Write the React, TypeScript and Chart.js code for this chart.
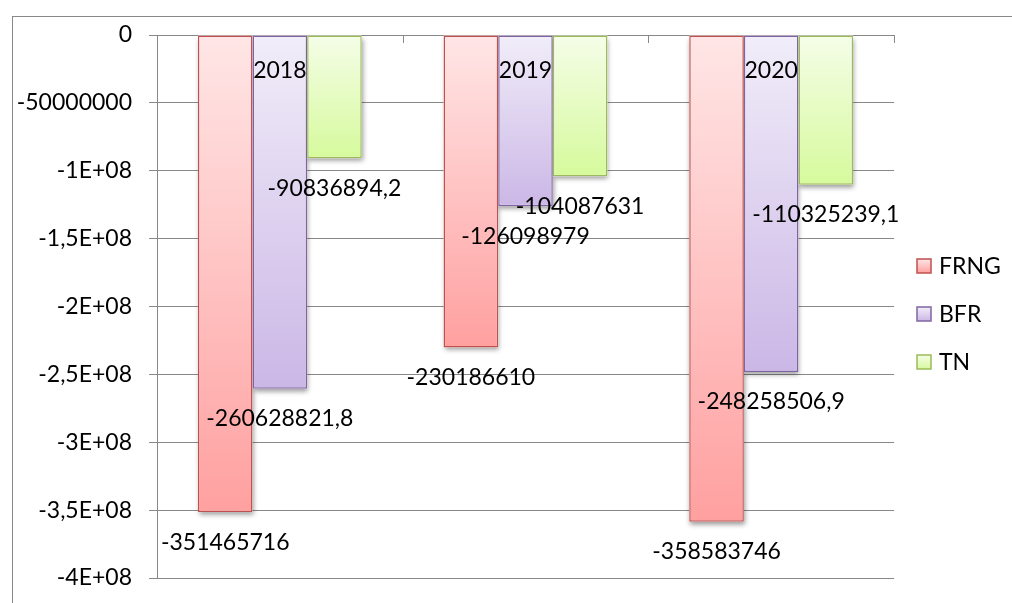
import React, { useEffect, useRef } from "react";
import { Chart, registerables } from "chart.js";

Chart.register(...registerables);

const categories = ["2018", "2019", "2020"];
const seriesNames = ["FRNG", "BFR", "TN"];
const frngValues = [-351465716, -230186610, -358583746];
const bfrValues = [-260628821.8, -126098979, -248258506.9];
const tnValues = [-90836894.2, -104087631, -110325239.1];
const yTickLabels = ["0", "-50000000", "-1E+08", "-1,5E+08", "-2E+08", "-2,5E+08", "-3E+08", "-3,5E+08", "-4E+08"];

const FONT = "Lato";
const FS = 23;
const GRID = "#888888";

const palette = [
  { top: "#FFE6E6", bottom: "#FFA0A0", border: "#C0504D" },
  { top: "#F1EDF9", bottom: "#CBB7E6", border: "#8064A2" },
  { top: "#F5FDE8", bottom: "#D6FA9C", border: "#9BBB59" },
];

function gradientFor(i: number) {
  return (ctx: any) => {
    const chart = ctx.chart;
    const p = palette[i];
    if (!chart.chartArea || ctx.type !== "data" || !chart.scales.y) return p.bottom;
    const y = chart.scales.y;
    const y0 = y.getPixelForValue(0);
    const y1 = y.getPixelForValue(ctx.raw);
    if (!isFinite(y0) || !isFinite(y1) || y0 === y1) return p.bottom;
    const g = chart.ctx.createLinearGradient(0, y0, 0, y1);
    g.addColorStop(0, p.top);
    g.addColorStop(1, p.bottom);
    return g;
  };
}

const fmt = (v: number) => String(v).replace(".", ",");

const decorPlugin = {
  id: "decor",
  beforeDraw(chart: any) {
    const c = chart.ctx;
    c.save();
    c.strokeStyle = GRID;
    c.lineWidth = 1;
    c.strokeRect(12.5, 16.5, chart.width + 20, chart.height + 20);
    c.restore();
  },
  beforeDatasetsDraw(chart: any) {
    const c = chart.ctx;
    const { chartArea } = chart;
    const n = categories.length;
    const w = (chartArea.right - chartArea.left) / n;
    c.save();
    c.strokeStyle = GRID;
    c.lineWidth = 1;
    for (let i = 1; i <= n; i++) {
      const px = Math.round(chartArea.left + i * w) + 0.5;
      c.beginPath();
      c.moveTo(px, chartArea.top);
      c.lineTo(px, chartArea.top + 8);
      c.stroke();
    }
    c.restore();
    // shadows
    c.save();
    c.shadowColor = "rgba(0,0,0,0.4)";
    c.shadowBlur = 5;
    c.shadowOffsetX = 1;
    c.shadowOffsetY = 3;
    c.fillStyle = "#ffffff";
    chart.data.datasets.forEach((_: any, di: number) => {
      const meta = chart.getDatasetMeta(di);
      meta.data.forEach((el: any) => {
        const left = el.x - el.width / 2;
        const top = Math.min(el.y, el.base);
        const h = Math.abs(el.base - el.y);
        c.fillRect(left, top, el.width, h);
      });
    });
    c.restore();
  },
  afterDatasetsDraw(chart: any) {
    const c = chart.ctx;
    const { chartArea } = chart;
    c.save();
    c.fillStyle = "#000000";
    c.font = `${FS}px ${FONT}`;
    c.textAlign = "center";
    c.textBaseline = "middle";
    chart.data.datasets.forEach((ds: any, di: number) => {
      const meta = chart.getDatasetMeta(di);
      meta.data.forEach((el: any, i: number) => {
        c.fillText(fmt(ds.data[i]), el.x, el.y + 30);
      });
    });
    const xs = chart.scales.x;
    categories.forEach((cat, i) => {
      c.fillText(cat, xs.getPixelForValue(i), chartArea.top + 36);
    });
    c.textAlign = "left";
    chart.data.datasets.forEach((ds: any, di: number) => {
      const p = palette[di];
      const cy = 266 + di * 48;
      const g = c.createLinearGradient(0, cy - 7, 0, cy + 7);
      g.addColorStop(0, p.top);
      g.addColorStop(1, p.bottom);
      c.fillStyle = g;
      c.fillRect(917, cy - 7, 14, 14);
      c.strokeStyle = p.border;
      c.lineWidth = 1.5;
      c.strokeRect(917, cy - 7, 14, 14);
      c.fillStyle = "#000000";
      c.fillText(ds.label, 939, cy + 1);
    });
    c.restore();
  },
};

export default function App() {
  const ref = useRef<HTMLCanvasElement | null>(null);
  useEffect(() => {
    if (!ref.current) return;
    const values = [frngValues, bfrValues, tnValues];
    const chart = new Chart(ref.current, {
      type: "bar",
      data: {
        labels: categories,
        datasets: seriesNames.map((name, i) => ({
          label: name,
          data: values[i],
          backgroundColor: gradientFor(i),
          borderColor: palette[i].border,
          borderWidth: 1.5,
          borderSkipped: false,
          categoryPercentage: 0.667,
          barPercentage: 1,
        })),
      },
      options: {
        responsive: false,
        animation: false,
        maintainAspectRatio: false,
        layout: { padding: { left: 0, top: 35, right: 118, bottom: 25 } },
        plugins: { legend: { display: false }, tooltip: { enabled: false }, title: { display: false } },
        scales: {
          x: { display: false },
          y: {
            min: -400000000,
            max: 0,
            afterFit: (s: any) => {
              s.width = 157;
              s.paddingTop = 0;
              s.paddingBottom = 0;
            },
            ticks: {
              stepSize: 50000000,
              color: "#000000",
              padding: 17,
              font: { family: FONT, size: FS },
              callback: (v: any) => yTickLabels[Math.round(-Number(v) / 50000000)] ?? "",
            },
            grid: { color: GRID, lineWidth: 1, tickLength: 8, drawTicks: true },
            border: { display: true, color: GRID, width: 1 },
          },
        },
      },
      plugins: [decorPlugin],
    });
    return () => chart.destroy();
  }, []);
  return (
    <div style={{ position: "absolute", left: 0, top: 0, width: 1012, height: 603, background: "#fff" }}>
      <canvas ref={ref} width={1012} height={603} style={{ width: 1012, height: 603, display: "block" }} />
    </div>
  );
}
